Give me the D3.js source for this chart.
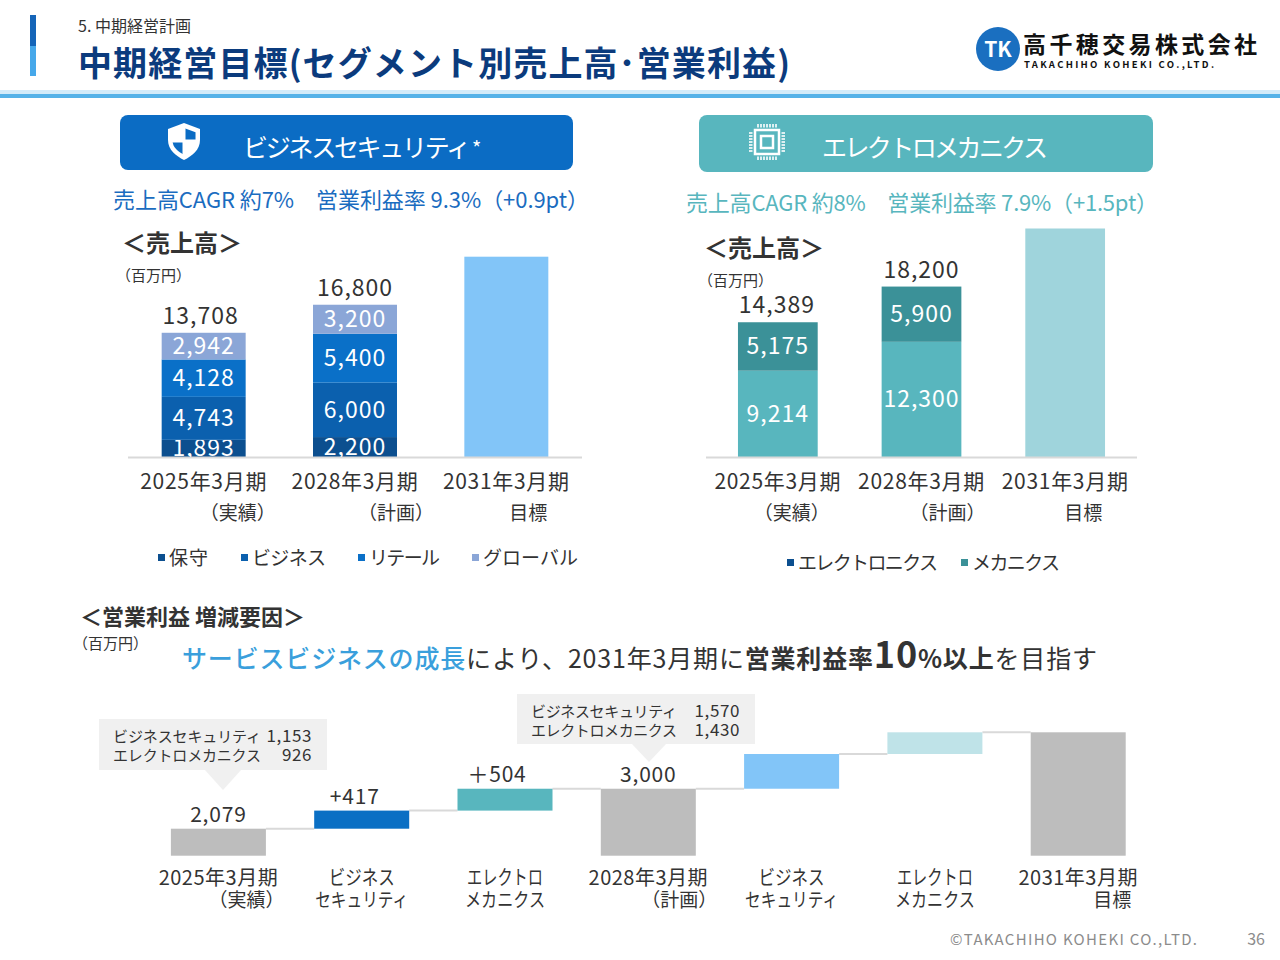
<!DOCTYPE html>
<html><head><meta charset="utf-8">
<script src="https://cdn.jsdelivr.net/npm/d3@7"></script>
<style>
body{margin:0;background:#fff}
svg{display:block}
text{font-family:"Noto Sans CJK JP","Noto Sans",sans-serif}
</style>
</head><body>
<svg id="c" width="1280" height="960"></svg>
<script>
// ---------- DATA ----------
const periods = ["2025年3月期", "2028年3月期", "2031年3月期"];
const periodSub = ["（実績）", "（計画）", "目標"];

// Business Security (百万円)
const bsSeriesNames = ["保守", "ビジネス", "リテール", "グローバル"];
const bsHoshu    = [1893, 2200];
const bsBusiness = [4743, 6000];
const bsRetail   = [4128, 5400];
const bsGlobal   = [2942, 3200];
const bsTotals   = [13708, 16800, 22100]; // 2031 target: unlabelled, estimated

// Electro-Mechanics (百万円)
const emSeriesNames = ["エレクトロニクス", "メカニクス"];
const emElectronics = [9214, 12300];
const emMechanics   = [5175, 5900];
const emTotals      = [14389, 18200, 24400]; // 2031 target: unlabelled, estimated

// Operating profit bridge (百万円)
const wfLine1  = ["2025年3月期", "ビジネス", "エレクトロ", "2028年3月期", "ビジネス", "エレクトロ", "2031年3月期"];
const wfLine2  = ["（実績）", "セキュリティ", "メカニクス", "（計画）", "セキュリティ", "メカニクス", "目標"];
const wfValues = [2079, 417, 504, 3000, 800, 500, 4300]; // last three unlabelled, estimated
const wfKinds  = ["total", "delta", "delta", "total", "delta", "delta", "total"];
const wfValueLabels = ["2,079", "+417", "＋504", "3,000", "", "", ""];
const callout1 = [["ビジネスセキュリティ", "1,153"], ["エレクトロメカニクス", "926"]];
const callout2 = [["ビジネスセキュリティ", "1,570"], ["エレクトロメカニクス", "1,430"]];

// ---------- STYLE ----------
const C = {
  navy: "#0b3b7d", bsHead: "#0b6cc4", emHead: "#58b6be",
  bs: ["#0c4f8f", "#0b60ae", "#0a70c8", "#8ba6d7"], bsTarget: "#82c5f8",
  em: ["#58b6be", "#3b9198"], emTarget: "#9fd4dc",
  emLegend: ["#0c4f8f", "#3b9198"],
  grey: "#bdbdbd", wfBS: "#0a6fc4", wfEM: "#58b6be", wfBS2: "#82c5f8", wfEM2: "#bfe3e8",
  text: "#333333", axis: "#d9d9d9"
};
const svg = d3.select("#c");

// ---------- HEADER ----------
svg.append("rect").attr("x", 30).attr("y", 15).attr("width", 6).attr("height", 31).attr("fill", "#1565b8");
svg.append("rect").attr("x", 30).attr("y", 46).attr("width", 6).attr("height", 30).attr("fill", "#46a8ea");
svg.append("text").attr("x", 78).attr("y", 32).attr("font-size", 16).attr("fill", "#333").text("5. 中期経営計画");
svg.append("text").attr("x", 78).attr("y", 76).attr("font-size", 34).attr("font-weight", 700)
  .attr("fill", C.navy).attr("textLength", 712).text("中期経営目標(セグメント別売上高･営業利益)");
svg.append("rect").attr("x", 0).attr("y", 90).attr("width", 1280).attr("height", 4).attr("fill", "#d3ebf9");
svg.append("rect").attr("x", 0).attr("y", 94).attr("width", 1280).attr("height", 4).attr("fill", "#55b2e8");

// logo
const logo = svg.append("g");
logo.append("circle").attr("cx", 998).attr("cy", 49).attr("r", 22).attr("fill", "#1a6fc0");
logo.append("text").attr("x", 998).attr("y", 57).attr("text-anchor", "middle").attr("font-size", 21)
  .attr("font-weight", 700).attr("fill", "#fff").attr("font-family", "DejaVu Serif").text("TK");
logo.append("text").attr("x", 1023).attr("y", 53).attr("font-size", 23).attr("font-weight", 700)
  .attr("fill", "#111").attr("textLength", 234).text("高千穂交易株式会社");
logo.append("text").attr("x", 1024).attr("y", 68).attr("font-size", 9.5).attr("font-weight", 700)
  .attr("fill", "#111").attr("textLength", 190).attr("font-family", "DejaVu Sans").text("TAKACHIHO KOHEKI CO.,LTD.");

// ---------- SEGMENT HEADERS ----------
svg.append("rect").attr("x", 120).attr("y", 115).attr("width", 453).attr("height", 55).attr("rx", 8).attr("fill", C.bsHead);
svg.append("text").attr("x", 243).attr("y", 157).attr("font-size", 25).attr("fill", "#fff").attr("textLength", 228).text("ビジネスセキュリティ");
svg.append("text").attr("x", 472).attr("y", 156).attr("font-size", 20).attr("fill", "#fff").text("*");
// shield icon
const sh = svg.append("g").attr("transform", "translate(184,141)");
const shieldPath = "M0,-18 L16,-12 L16,-1 C16,9 8,15 0,19 C-8,15 -16,9 -16,-1 L-16,-12 Z";
sh.append("path").attr("d", shieldPath).attr("fill", "#fff");
svg.append("defs").append("clipPath").attr("id", "shclip").append("path")
  .attr("d", shieldPath).attr("transform", "translate(184,141) scale(0.72)");
const shIn = svg.append("g").attr("clip-path", "url(#shclip)");
shIn.append("rect").attr("x", 185.5).attr("y", 120).attr("width", 20).attr("height", 19.5).attr("fill", C.bsHead);
shIn.append("rect").attr("x", 164).attr("y", 142.5).attr("width", 18.5).attr("height", 20).attr("fill", C.bsHead);

svg.append("rect").attr("x", 699).attr("y", 115).attr("width", 454).attr("height", 57).attr("rx", 8).attr("fill", C.emHead);
svg.append("text").attr("x", 822).attr("y", 157).attr("font-size", 25).attr("fill", "#fff").attr("textLength", 226).text("エレクトロメカニクス");
// chip icon
const chip = svg.append("g").attr("transform", "translate(767,142)");
chip.append("rect").attr("x", -12).attr("y", -12).attr("width", 24).attr("height", 24).attr("fill", "none").attr("stroke", "#fff").attr("stroke-width", 2.5);
chip.append("rect").attr("x", -6).attr("y", -6).attr("width", 12).attr("height", 12).attr("fill", "none").attr("stroke", "#fff").attr("stroke-width", 2.5);
for (let i = 0; i < 7; i++) {
  const p = -9 + i * 3;
  chip.append("line").attr("x1", p).attr("x2", p).attr("y1", -18).attr("y2", -14.5).attr("stroke", "#fff").attr("stroke-width", 1.6);
  chip.append("line").attr("x1", p).attr("x2", p).attr("y1", 14.5).attr("y2", 18).attr("stroke", "#fff").attr("stroke-width", 1.6);
  chip.append("line").attr("y1", p).attr("y2", p).attr("x1", -18).attr("x2", -14.5).attr("stroke", "#fff").attr("stroke-width", 1.6);
  chip.append("line").attr("y1", p).attr("y2", p).attr("x1", 14.5).attr("x2", 18).attr("stroke", "#fff").attr("stroke-width", 1.6);
}

// CAGR lines
svg.append("text").attr("x", 113).attr("y", 208).attr("font-size", 22).attr("fill", "#1a6cc0")
  .attr("textLength", 476).text("売上高CAGR 約7%　営業利益率 9.3%（+0.9pt）");
svg.append("text").attr("x", 686).attr("y", 211).attr("font-size", 22).attr("fill", C.emHead)
  .attr("textLength", 472).text("売上高CAGR 約8%　営業利益率 7.9%（+1.5pt）");

// ---------- STACKED BAR CHART helper ----------
function stackedChart(opt) {
  const g = svg.append("g");
  g.append("text").attr("x", opt.titleX).attr("y", opt.titleY).attr("font-size", 24).attr("font-weight", 700)
    .attr("fill", C.text).text("＜売上高＞");
  g.append("text").attr("x", opt.titleX - 6).attr("y", opt.titleY + 29).attr("font-size", 15)
    .attr("fill", C.text).text("（百万円）");

  const x = d3.scaleBand().domain(periods).range(opt.xr).paddingInner(0.445).paddingOuter(0.2225);
  const y = d3.scaleLinear().domain([0, opt.totals[2]]).range([457, opt.topY]);

  const rows = opt.series[0].map((_, i) => {
    const r = { period: periods[i] };
    opt.series.forEach((s, k) => r["s" + k] = s[i]);
    return r;
  });
  const keys = opt.series.map((_, k) => "s" + k);
  const stacked = d3.stack().keys(keys)(rows);

  stacked.forEach((layer, k) => {
    g.selectAll(null).data(layer).join("rect")
      .attr("x", d => x(d.data.period)).attr("width", x.bandwidth())
      .attr("y", d => y(d[1])).attr("height", d => y(d[0]) - y(d[1]))
      .attr("fill", opt.colors[k]);
    g.selectAll(null).data(layer).join("text")
      .attr("x", d => x(d.data.period) + x.bandwidth() / 2)
      .attr("y", d => (y(d[0]) + y(d[1])) / 2 + 8)
      .attr("text-anchor", "middle").attr("font-size", 23).attr("letter-spacing", 1)
      .attr("fill", "#fff").text(d => d3.format(",")(d[1] - d[0]));
  });
  // target bar
  g.append("rect").attr("x", x(periods[2])).attr("width", x.bandwidth())
    .attr("y", y(opt.totals[2])).attr("height", y(0) - y(opt.totals[2])).attr("fill", opt.targetColor);
  // totals
  g.selectAll(null).data(opt.totals.slice(0, 2)).join("text")
    .attr("x", (d, i) => x(periods[i]) + x.bandwidth() / 2 + opt.totalDx[i])
    .attr("y", d => y(d) - 9).attr("text-anchor", "middle").attr("font-size", 23).attr("letter-spacing", 1)
    .attr("fill", C.text).text(d => d3.format(",")(d));
  // baseline
  g.append("line").attr("x1", opt.xr[0]).attr("x2", opt.xr[1]).attr("y1", 457.5).attr("y2", 457.5)
    .attr("stroke", C.axis).attr("stroke-width", 2);
  // category labels
  g.selectAll(null).data(periods).join("text")
    .attr("x", d => x(d) + x.bandwidth() / 2).attr("y", 489)
    .attr("text-anchor", "middle").attr("font-size", 21).attr("letter-spacing", 0.7).attr("fill", C.text).text(d => d);
  g.selectAll(null).data(periodSub).join("text")
    .attr("x", (d, i) => x(periods[i]) + x.bandwidth() / 2 + opt.subDx[i]).attr("y", 520)
    .attr("text-anchor", "middle").attr("font-size", 19).attr("fill", C.text).text(d => d);
  // legend
  const lg = g.selectAll(null).data(opt.names).join("g")
    .attr("transform", (d, i) => `translate(${opt.legendX[i]},${opt.legendY})`);
  lg.append("rect").attr("x", 0).attr("y", -5).attr("width", 7).attr("height", 7).attr("fill", (d, i) => opt.legendColors[i]);
  lg.append("text").attr("x", 11).attr("y", 6).attr("font-size", 19).attr("fill", C.text)
    .attr("textLength", (d, i) => opt.legendW[i]).text(d => d);
}

stackedChart({
  titleX: 122, titleY: 252, xr: [128, 582], topY: 256.7,
  series: [bsHoshu, bsBusiness, bsRetail, bsGlobal], totals: bsTotals,
  colors: C.bs, targetColor: C.bsTarget, totalDx: [-3, 0],
  subDx: [34, 41, 22], names: bsSeriesNames, legendColors: C.bs,
  legendX: [158, 241, 358, 472], legendY: 559, legendW: [39, 74, 71, 95]
});
stackedChart({
  titleX: 704, titleY: 257, xr: [706, 1137], topY: 228.5,
  series: [emElectronics, emMechanics], totals: emTotals,
  colors: C.em, targetColor: C.emTarget, totalDx: [-1, 0],
  subDx: [14, 26, 18], names: emSeriesNames, legendColors: C.emLegend,
  legendX: [787, 961], legendY: 564, legendW: [140, 88]
});

// ---------- OPERATING PROFIT BRIDGE ----------
svg.append("text").attr("x", 80).attr("y", 625).attr("font-size", 22).attr("font-weight", 700)
  .attr("fill", C.text).text("＜営業利益 増減要因＞");
svg.append("text").attr("x", 73).attr("y", 649).attr("font-size", 15).attr("fill", C.text).text("（百万円）");
const msg = svg.append("text").attr("x", 182).attr("y", 668).attr("font-size", 25).attr("fill", C.text)
  .attr("textLength", 915);
msg.append("tspan").attr("fill", "#3a9fdc").attr("font-weight", 500).text("サービスビジネスの成長");
msg.append("tspan").text("により、2031年3月期に");
msg.append("tspan").attr("font-weight", 700).text("営業利益率");
msg.append("tspan").attr("font-weight", 700).attr("font-size", 36).text("10");
msg.append("tspan").attr("font-weight", 700).text("%以上");
msg.append("tspan").text("を目指す");

const idx = wfValues.map((_, i) => i);
const xw = d3.scaleBand().domain(idx).range([146.75, 1149.85]).paddingInner(0.337).paddingOuter(0.1685);
const yw = d3.scaleLinear().domain([1457, 4300]).range([855.7, 732.3]);
const wfColors = [C.grey, C.wfBS, C.wfEM, C.grey, C.wfBS2, C.wfEM2, C.grey];
let run = 0;
const wf = wfValues.map((v, i) => {
  let lo, hi;
  if (wfKinds[i] === "total") { lo = yw.domain()[0]; hi = v; run = v; }
  else { lo = run; hi = run + v; run = hi; }
  return { i, lo, hi, v };
});
const gw = svg.append("g");
// connectors
gw.selectAll(null).data(wf.slice(0, -1)).join("line")
  .attr("x1", d => xw(d.i) + xw.bandwidth()).attr("x2", d => xw(d.i + 1))
  .attr("y1", d => yw(d.hi)).attr("y2", d => yw(d.hi))
  .attr("stroke", "#d9d9d9").attr("stroke-width", 2);
gw.selectAll(null).data(wf).join("rect")
  .attr("x", d => xw(d.i)).attr("width", xw.bandwidth())
  .attr("y", d => yw(d.hi)).attr("height", d => yw(d.lo) - yw(d.hi))
  .attr("fill", d => wfColors[d.i]);
const wfLabelDx = [0, -7, -8, 0, 0, 0, 0];
gw.selectAll(null).data(wf).join("text")
  .attr("x", d => xw(d.i) + xw.bandwidth() / 2 + wfLabelDx[d.i]).attr("y", d => yw(d.hi) - 7)
  .attr("text-anchor", "middle").attr("font-size", 21).attr("letter-spacing", 0.8).attr("fill", C.text)
  .text(d => wfValueLabels[d.i]);
const wfW1 = [null, 66, 76, null, 66, 76, null];
const wfW2 = [null, 93, 80, null, 93, 80, null];
gw.selectAll(null).data(wfLine1).join("text")
  .attr("x", (d, i) => xw(i) + xw.bandwidth() / 2 - (wfW1[i] ? wfW1[i] / 2 : 0)).attr("y", 885)
  .attr("text-anchor", (d, i) => wfW1[i] ? "start" : "middle")
  .attr("textLength", (d, i) => wfW1[i]).attr("lengthAdjust", "spacingAndGlyphs")
  .attr("font-size", 20).attr("letter-spacing", (d, i) => wfW1[i] ? 0 : 0.5).attr("fill", C.text).text(d => d);
const wfSubDx = [28, 0, 0, 31, 0, 0, 34];
gw.selectAll(null).data(wfLine2).join("text")
  .attr("x", (d, i) => xw(i) + xw.bandwidth() / 2 + wfSubDx[i] - (wfW2[i] ? wfW2[i] / 2 : 0)).attr("y", 907)
  .attr("text-anchor", (d, i) => wfW2[i] ? "start" : "middle")
  .attr("textLength", (d, i) => wfW2[i]).attr("lengthAdjust", "spacingAndGlyphs")
  .attr("font-size", 19).attr("fill", C.text).text(d => d);

// callouts
function callout(box, tri, lines, nameW) {
  svg.append("rect").attr("x", box[0]).attr("y", box[1]).attr("width", box[2]).attr("height", box[3]).attr("fill", "#f0f0f0");
  svg.append("path").attr("d", `M${tri[0]},${box[1] + box[3]} L${tri[1]},${box[1] + box[3]} L${tri[2]},${tri[3]} Z`).attr("fill", "#f0f0f0");
  lines.forEach((l, k) => {
    const yy = box[1] + 23 + k * 19;
    svg.append("text").attr("x", box[0] + 14).attr("y", yy).attr("font-size", 15).attr("fill", C.text)
      .attr("textLength", nameW).text(l[0]);
    svg.append("text").attr("x", box[0] + box[2] - 15).attr("y", yy).attr("text-anchor", "end")
      .attr("font-size", 17).attr("letter-spacing", 0.6).attr("fill", C.text).text(l[1]);
  });
}
callout([99, 719, 228, 51], [205, 241, 223, 790], callout1, 148);
callout([517, 694, 238, 50], [632, 666, 649, 762], callout2, 146);

// footer
svg.append("text").attr("x", 950).attr("y", 945).attr("font-size", 15).attr("fill", "#8c8c8c")
  .attr("textLength", 247).text("©TAKACHIHO KOHEKI CO.,LTD.");
svg.append("text").attr("x", 1265).attr("y", 945).attr("text-anchor", "end").attr("font-size", 16).attr("fill", "#8c8c8c").text("36");
</script>
</body></html>
